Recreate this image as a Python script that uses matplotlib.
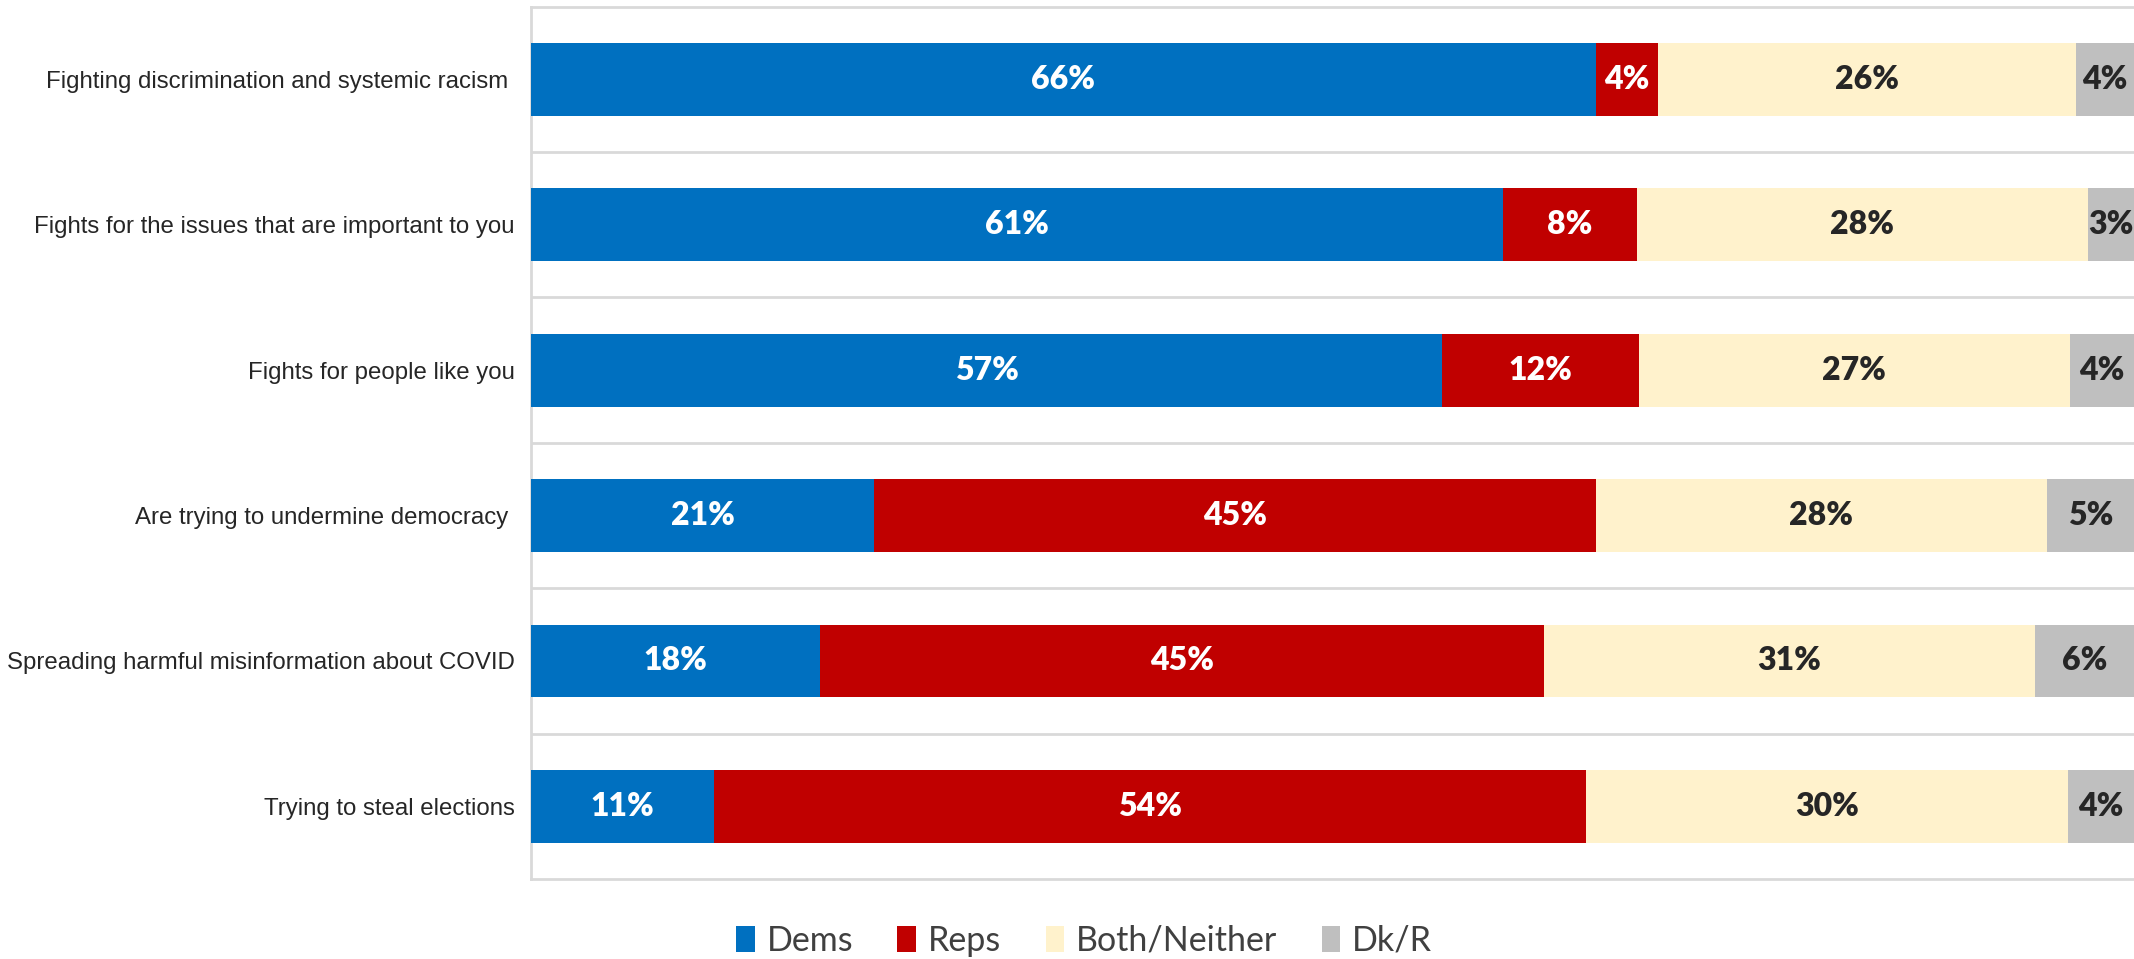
import matplotlib.pyplot as plt
from matplotlib.patches import Patch

categories = [
    "Fighting discrimination and systemic racism ",
    "Fights for the issues that are important to you",
    "Fights for people like you",
    "Are trying to undermine democracy ",
    "Spreading harmful misinformation about COVID",
    "Trying to steal elections",
]
dems = [66.4, 60.6, 56.8, 21.4, 18.0, 11.4]
reps = [3.9, 8.4, 12.3, 45.0, 45.2, 54.4]
both = [26.1, 28.1, 26.9, 28.2, 30.6, 30.1]
dkr = [3.6, 2.9, 4.0, 5.4, 6.2, 4.1]

series = ["Dems", "Reps", "Both/Neither", "Dk/R"]
colors = ["#0070C0", "#C00000", "#FFF2CC", "#BFBFBF"]
text_colors = ["white", "white", "#262626", "#262626"]

fig = plt.figure(figsize=(21.34, 9.59), dpi=100)
ax = fig.add_axes([0.249, 0.0834, 0.751, 0.9096])

y = list(range(len(categories)))
left = [0.0] * len(categories)
for vals, col, tcol in zip([dems, reps, both, dkr], colors, text_colors):
    ax.barh(y, vals, left=left, height=0.5, color=col, edgecolor="none", zorder=3)
    for yi, v, l in zip(y, vals, left):
        ax.text(l + v / 2, yi, f"{v:.0f}%", ha="center", va="center",
                color=tcol, fontsize=23, fontweight="heavy",
                family=["Lato", "DejaVu Sans"], zorder=4)
    left = [l + v for l, v in zip(left, vals)]

ax.set_xlim(0, 100)
ax.set_ylim(len(categories) - 0.5, -0.5)
ax.set_xticks([])
ax.set_yticks(y)
ax.set_yticklabels(categories, family=["Liberation Sans", "DejaVu Sans"],
                   fontsize=17.3, color="#262626")
ax.tick_params(axis="y", length=0, pad=12)

for yb in [i + 0.5 for i in y[:-1]]:
    ax.axhline(yb, color="#D9D9D9", lw=2, zorder=1)
for s in ["top", "bottom", "left"]:
    ax.spines[s].set_color("#D9D9D9")
    ax.spines[s].set_linewidth(2)
ax.spines["right"].set_visible(False)

handles = [Patch(facecolor=c, edgecolor="none") for c in colors]
fig.legend(handles, series, loc="center", bbox_to_anchor=(0.508, 0.019), ncol=4,
           frameon=False, handlelength=0.55, handleheight=0.8, handletextpad=0.35,
           columnspacing=1.3, prop={"family": ["Lato", "DejaVu Sans"], "size": 24.5},
           labelcolor="#404040")

fig.savefig("out.png", dpi=100)
